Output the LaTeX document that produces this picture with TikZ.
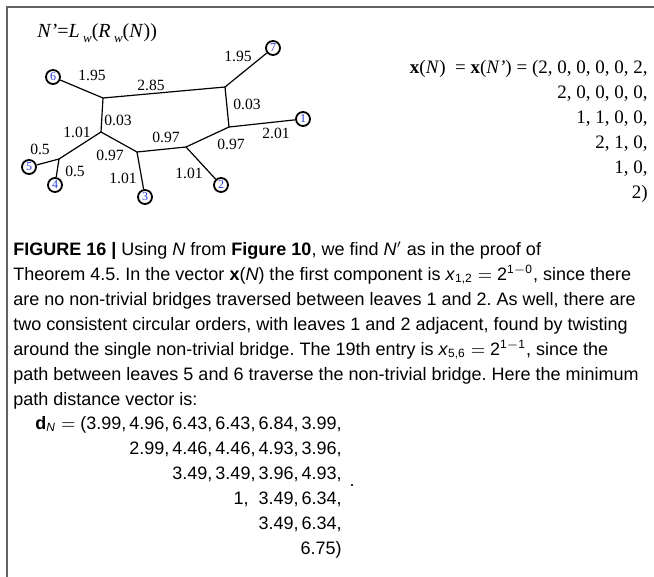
\documentclass[tikz,border=0pt]{standalone}
\usepackage{fontspec}
\setmainfont{Liberation Sans}
\newfontfamily\serifnet{Liberation Serif}
\usetikzlibrary{positioning}
\definecolor{numblue}{RGB}{40,60,220}
\definecolor{framegray}{RGB}{100,100,100}
\frenchspacing

\begin{document}
\begin{tikzpicture}[x=0.5pt,y=-0.5pt,
  folha/.style={draw,circle,line width=0.9pt,minimum size=7pt,inner sep=0pt,text=numblue,font=\serifnet\fontsize{6}{6}\selectfont},
  peso/.style={inner sep=0pt,font=\serifnet\fontsize{7.8}{8}\selectfont},
  aresta/.style={line width=0.6pt},
  legenda/.style={inner sep=0pt,align=left,font=\fontsize{9}{12.5}\selectfont},
  vetor/.style={inner sep=0pt,align=right,font=\serifnet\fontsize{9.5}{12.5}\selectfont}
]
\useasboundingbox (0,0) rectangle (654,577);
% moldura
\draw[line width=1pt,framegray] (7,577) -- (7,7) -- (654,7);

% rede N'
\node[anchor=base west,inner sep=0pt,font=\serifnet\fontsize{10}{11}\selectfont] (titulo) at (37,38)
  {\textit{N’}=\textit{L}\,\raisebox{-0.5ex}{\fontsize{6.5}{7}\selectfont\itshape w}(\textit{R}\,\raisebox{-0.5ex}{\fontsize{6.5}{7}\selectfont\itshape w}(\textit{N}))};

\coordinate (a) at (103,98);
\coordinate (b) at (225,87);
\coordinate (c) at (229,127);
\coordinate (d) at (101,132);
\coordinate (e) at (137,152);
\coordinate (f) at (186,147);
\coordinate (g) at (59,159);

\node[folha] (l1) at (303,119) {1};
\node[folha] (l2) at (221,185) {2};
\node[folha] (l3) at (145,197) {3};
\node[folha] (l4) at (55,185) {4};
\node[folha] (l5) at (29,167) {5};
\node[folha] (l6) at (53,77) {6};
\node[folha] (l7) at (273,48) {7};

\draw[aresta] (l6) -- (a) -- (b) -- (l7);
\draw[aresta] (b) -- (c) -- (l1);
\draw[aresta] (c) -- (f) -- (e) -- (d) -- (a);
\draw[aresta] (d) -- (g) -- (l5);
\draw[aresta] (g) -- (l4);
\draw[aresta] (e) -- (l3);
\draw[aresta] (f) -- (l2);

\node[peso] (p6a) at (92,75) {1.95};
\node[peso] (pab) at (151,85) {2.85};
\node[peso] (pb7) at (238,56) {1.95};
\node[peso] (pbc) at (247,104) {0.03};
\node[peso] (pad) at (118,120) {0.03};
\node[peso] (pc1) at (276,133) {2.01};
\node[peso] (pcf) at (231,144) {0.97};
\node[peso] (pfe) at (166,137) {0.97};
\node[peso] (ped) at (110,155) {0.97};
\node[peso] (pdg) at (77,132) {1.01};
\node[peso] (pg5) at (40,149) {0.5};
\node[peso] (pg4) at (75,171) {0.5};
\node[peso] (pe3) at (123,178) {1.01};
\node[peso] (pf2) at (189,173) {1.01};

% vetor x
\node[vetor,anchor=north east] (xvec) at (648,60)
  {\textbf{x}(\textit{N})~~= \textbf{x}(\textit{N’}) = (2, 0, 0, 0, 0, 2,\\
   2, 0, 0, 0, 0,\\ 1, 1, 0, 0,\\ 2, 1, 0,\\ 1, 0,\\ 2)};

% legenda
\node[legenda,anchor=north west] (cap) at (13,241)
  {\textbf{FIGURE 16 |} Using \textit{N} from \textbf{Figure 10}, we find \textit{N}$'$ as in the proof of\\
   Theorem 4.5. In the vector \textbf{x}(\textit{N}) the first component is \textit{x}\textsubscript{1,2} $=$ 2\textsuperscript{1$-$0}, since there\\
   are no non-trivial bridges traversed between leaves 1 and 2. As well, there are\\
   two consistent circular orders, with leaves 1 and 2 adjacent, found by twisting\\
   around the single non-trivial bridge. The 19th entry is \textit{x}\textsubscript{5,6} $=$ 2\textsuperscript{1$-$1}, since the\\
   path between leaves 5 and 6 traverse the non-trivial bridge. Here the minimum\\
   path distance vector is:};

\node[inner sep=0pt,align=right,font=\fontsize{9}{12.5}\selectfont,anchor=north east] (dvec) at (342,416)
  {\textbf{d}\textsubscript{\textit{N}} $=$ (3.99,\,4.96,\,6.43,\,6.43,\,6.84,\,3.99,\\
   2.99,\,4.46,\,4.46,\,4.93,\,3.96,\\
   3.49,\,3.49,\,3.96,\,4.93,\\
   1,~~3.49,\,6.34,\\
   3.49,\,6.34,\\
   6.75)};
\node[inner sep=0pt,font=\fontsize{9}{12.5}\selectfont] (ponto) at (352,486) {.};
\end{tikzpicture}
\end{document}
